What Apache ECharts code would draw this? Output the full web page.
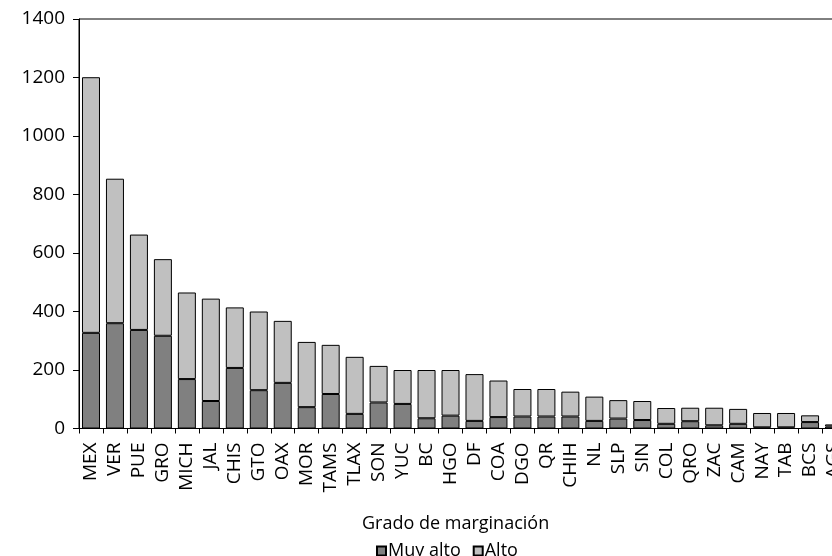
<!DOCTYPE html>
<html>
<head>
<meta charset="utf-8">
<script src="https://cdn.jsdelivr.net/npm/echarts@6/dist/echarts.min.js"></script>
<style>
html,body{margin:0;padding:0;background:#fff;}
#chart{width:832px;height:556px;}
</style>
</head>
<body>
<div id="chart"></div>
<script>
var categories = ['MEX','VER','PUE','GRO','MICH','JAL','CHIS','GTO','OAX','MOR','TAMS','TLAX','SON','YUC','BC','HGO','DF','COA','DGO','QR','CHIH','NL','SLP','SIN','COL','QRO','ZAC','CAM','NAY','TAB','BCS','AGS'];
var muyAlto = [327,360,337,317,169,94,207,131,156,73,118,50,89,84,35,44,26,39,41,41,41,26,34,29,16,25,11,16,4,4,22,7];
var alto = [874,494,326,262,296,350,207,269,212,223,168,195,125,116,165,156,160,125,94,94,85,83,63,65,54,46,60,51,49,49,23,7];
var yTicks = {min:0, max:1400, interval:200};
var xTitle = 'Grado de marginación';
var seriesNames = ['Muy alto','Alto'];

var FONT = 'Open Sans';
var chart = echarts.init(document.getElementById('chart'));
chart.setOption({
  animation:false,
  backgroundColor:'#fff',
  textStyle:{fontFamily:FONT},
  title:{
    text:xTitle, left:357, top:510,
    textStyle:{fontFamily:FONT, fontSize:18, fontWeight:'normal', color:'#000'}
  },
  legend:{
    data:seriesNames, left:371, top:537,
    itemWidth:9, itemHeight:9, itemGap:12, icon:'rect',
    textStyle:{fontFamily:FONT, fontSize:18, color:'#000', padding:[0,0,0,-3]}
  },
  grid:{left:79, top:19, width:767, height:409.5, show:true, borderColor:'#000', borderWidth:1,
        containLabel:false, outerBoundsMode:'none'},
  xAxis:{
    type:'category', data:categories,
    axisLine:{lineStyle:{color:'#000', width:1}},
    axisTick:{show:true, interval:0, length:5, lineStyle:{color:'#000'}},
    axisLabel:{interval:0, rotate:90, margin:14, color:'#000', fontFamily:FONT, fontSize:19}
  },
  yAxis:{
    type:'value', min:yTicks.min, max:yTicks.max, interval:yTicks.interval,
    axisLine:{show:true, lineStyle:{color:'#000', width:1}},
    axisTick:{show:true, length:6, lineStyle:{color:'#000'}},
    splitLine:{show:false},
    axisLabel:{margin:14, color:'#000', fontFamily:FONT, fontSize:19, formatter:function(v){return String(v);}}
  },
  series:[
    {name:seriesNames[0], type:'bar', stack:'t', data:muyAlto, barWidth:18,
     itemStyle:{color:'#808080', borderColor:'#000', borderWidth:1}},
    {name:seriesNames[1], type:'bar', stack:'t', data:alto, barWidth:18,
     itemStyle:{color:'#c0c0c0', borderColor:'#000', borderWidth:1}}
  ]
});
</script>
</body>
</html>
